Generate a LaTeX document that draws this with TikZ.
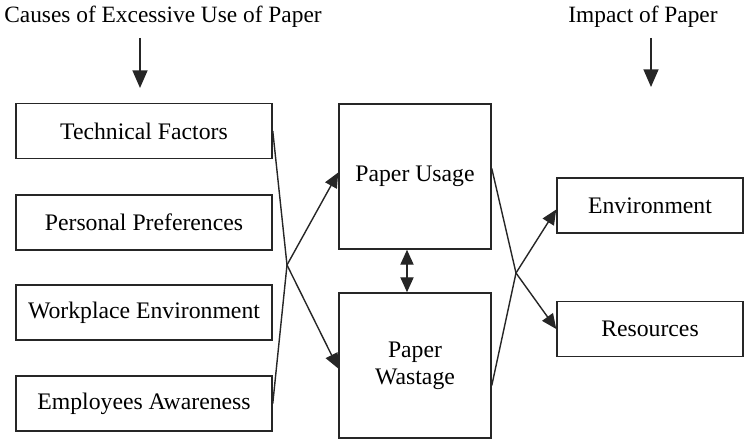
\documentclass[tikz,border=0pt]{standalone}
\usepackage{fontspec}
\setmainfont{Liberation Serif}
\usetikzlibrary{arrows.meta,calc}
\tikzset{
    box/.style={draw=black!85, line width=0.9pt, inner sep=2pt, align=center,
        font=\fontsize{13.5}{15.5}\selectfont},
    causebox/.style={box, minimum width=5.12cm, minimum height=1.1cm},
    paperbox/.style={box, minimum width=3.04cm, minimum height=2.9cm},
    impactbox/.style={box, minimum width=3.72cm, minimum height=1.1cm},
    heading/.style={font=\fontsize{13.3}{15.5}\selectfont, inner sep=0pt},
    tip/.style={Triangle[length=8.5pt,width=7.5pt]},
    conn/.style={draw=black!85, line width=0.8pt, -{Triangle[length=8.5pt,width=7.5pt]}}
}
\begin{document}
\begin{tikzpicture}[x=0.02cm, y=-0.02cm]
        \useasboundingbox (0,0) rectangle (744,439);
        % headings
        \node[heading] (causes) at (163,17) {Causes of Excessive Use of Paper};
        \node[heading] (impact) at (643,17) {Impact of Paper};
        \coordinate (ca) at (140,38);
        \coordinate (cb) at (140,88);
        \coordinate (ia) at (651,38);
        \coordinate (ib) at (651,87);
        \draw[conn, -{Triangle[length=10pt,width=8.5pt]}] (ca) -- (cb);
        \draw[conn, -{Triangle[length=10pt,width=8.5pt]}] (ia) -- (ib);
        % causes
        \node[causebox] (tf) at (144,131) {Technical Factors};
        \node[causebox] (pp) at (144,222.5) {Personal Preferences};
        \node[causebox] (we) at (144,312.5) {Workplace Environment};
        \node[causebox] (ea) at (144,403.5) {Employees Awareness};
        % paper
        \node[paperbox] (pu) at (415,176.5) {Paper Usage};
        \node[paperbox] (pw) at (415,365.5) {Paper\\Wastage};
        % impact
        \node[impactbox] (env) at (650,205.5) {Environment};
        \node[impactbox] (res) at (650,329) {Resources};
        % crossings
        \coordinate (jl) at (287,265);
        \coordinate (jr) at (516,273);
        \draw[conn] (tf.east) -- (jl) -- ($(pw.west)+(0,3)$);
        \draw[conn] (ea.east) -- (jl) -- ($(pu.west)+(0,-4)$);
        \draw[conn] ($(pu.east)+(0,-8)$) -- (jr) -- (res.west);
        \draw[conn] ($(pw.east)+(0,20)$) -- (jr) -- ($(env.west)+(0,4)$);
        \draw[conn, {Triangle[length=8.5pt,width=7.5pt]}-{Triangle[length=8.5pt,width=7.5pt]}]
            ($(pu.south)+(-8,0)$) -- ($(pw.north)+(-8,0)$);
    \end{tikzpicture}
\end{document}
